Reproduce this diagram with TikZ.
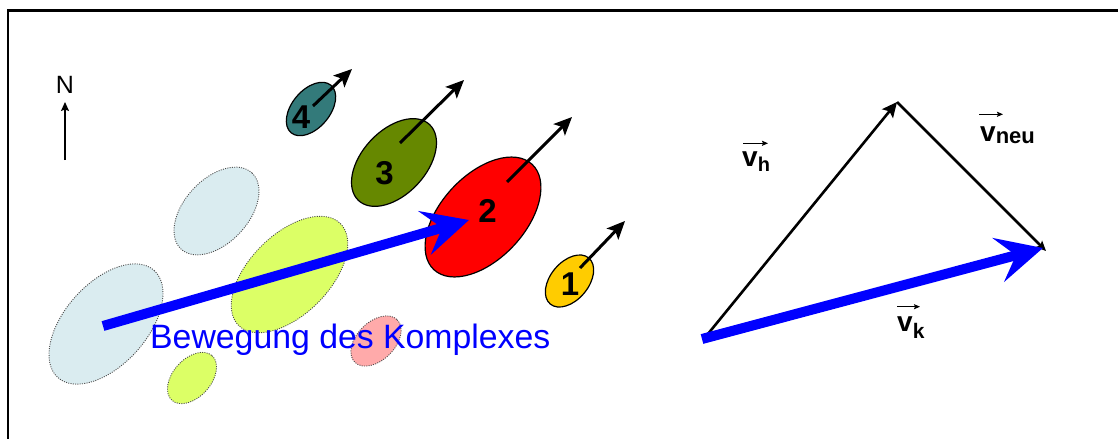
\documentclass[tikz,border=0pt]{standalone}
\usepackage{fontspec}
\setmainfont{Liberation Sans}
\usetikzlibrary{arrows.meta,calc}
\definecolor{lblue}{RGB}{218,236,240}
\definecolor{ygreen}{RGB}{220,255,102}
\definecolor{lpink}{RGB}{255,170,170}
\definecolor{teal4}{RGB}{51,122,122}
\definecolor{olive3}{RGB}{102,136,0}
\definecolor{gold1}{RGB}{255,204,0}
\begin{document}
\begin{tikzpicture}[x=1pt,y=-1pt,
  dotell/.style={fill=#1, draw=black!70, line width=0.9pt, dash pattern=on 1pt off 1.3pt},
  solell/.style={fill=#1, draw=black, line width=1.2pt},
  num/.style={font=\bfseries\fontsize{33}{33}\selectfont, inner sep=0pt, anchor=base},
  movearr/.style={line width=3pt, -{Stealth[length=18pt,width=16pt,inset=4pt]}},
  bluearr/.style={draw=blue, line width=10pt, -{Stealth[length=46pt,width=45pt,inset=18pt]}},
  vecarr/.style={line width=2.6pt},
  vlabel/.style={inner sep=0pt, anchor=base west, font=\bfseries\fontsize{28}{28}\selectfont},
  ovarr/.style={line width=1pt, -{Stealth[length=6pt,width=5pt,inset=1pt]}}
]
\useasboundingbox (0,0) rectangle (1118,439);
\draw[line width=2.2pt] (1118,10.5) -- (8,10.5) -- (8,439);

% north arrow
\node[font=\fontsize{25}{25}\selectfont, anchor=base, inner sep=0pt] (N) at (65,93) {N};
\coordinate (nS) at (65,160);
\coordinate (nT) at (65,102);
\draw[line width=1.3pt, -{Stealth[length=9pt,width=8pt,inset=1.5pt]}] (nS) -- (nT);

% old cells (dotted)
\path[dotell=lblue, shift={(106,324)}, rotate=48] (0,0) ellipse [x radius=72, y radius=41];
\path[dotell=lblue, shift={(216.5,211)}, rotate=47] (0,0) ellipse [x radius=52, y radius=32];
\path[dotell=ygreen, shift={(289.5,274.5)}, rotate=45] (0,0) ellipse [x radius=72, y radius=40];
\path[dotell=ygreen, shift={(192,378)}, rotate=48] (0,0) ellipse [x radius=30, y radius=19];
\path[dotell=lpink, shift={(376,341)}, rotate=45] (0,0) ellipse [x radius=30, y radius=19];

% current cells
\path[solell=teal4, shift={(311,109)}, rotate=50] (0,0) ellipse [x radius=31, y radius=19];
\path[solell=olive3, shift={(394,162.5)}, rotate=47] (0,0) ellipse [x radius=52, y radius=32];
\path[solell=red, shift={(483,217)}, rotate=47] (0,0) ellipse [x radius=72, y radius=42];
\path[solell=gold1, shift={(569.5,281)}, rotate=50] (0,0) ellipse [x radius=30, y radius=19];

\node[num] (n4) at (301,128) {4};
\node[num] (n3) at (384.5,184.5) {3};
\node[num] (n2) at (487.5,222) {2};
\node[num] (n1) at (570,295) {1};

% movement arrows of cells
\coordinate (m4s) at (313,106); \coordinate (m4t) at (352,69);
\coordinate (m3s) at (400,143); \coordinate (m3t) at (464,80);
\coordinate (m2s) at (507,182); \coordinate (m2t) at (572,117);
\coordinate (m1s) at (580,268); \coordinate (m1t) at (625,221);
\draw[movearr] (m4s) -- (m4t);
\draw[movearr] (m3s) -- (m3t);
\draw[movearr] (m2s) -- (m2t);
\draw[movearr] (m1s) -- (m1t);

% complex movement
\coordinate (bs) at (103,326);
\coordinate (bt) at (469,220);
\draw[bluearr] (bs) -- (bt);
\node[anchor=base west, text=blue, font=\fontsize{33.8}{33.8}\selectfont, inner sep=0pt] (bew) at (150,348) {Bewegung des Komplexes};

% vector triangle
\coordinate (A) at (703,340);
\coordinate (B) at (897,102);
\coordinate (C) at (1046,251);
\coordinate (Ab) at (702,339);
\coordinate (Cb) at (1043,248);
\draw[vecarr, -{Stealth[length=15pt,width=14pt,inset=3pt]}] (A) -- (B);
\draw[vecarr, -{Stealth[length=10pt,width=9pt,inset=2pt]}] (B) -- (C);
\draw[bluearr] (Ab) -- (Cb);

\node[vlabel] (vh) at (742,166.7) {v\raisebox{-5pt}{\fontsize{20}{20}\selectfont h}};
\node[vlabel] (vneu) at (980,141.7) {v\raisebox{-2pt}{\fontsize{22}{22}\selectfont neu}};
\node[vlabel] (vk) at (897,331) {v\raisebox{-7pt}{\fontsize{21}{21}\selectfont k}};
\draw[ovarr] ([shift={(1,-23.4)}]vh.base west) -- ++(25,0);
\draw[ovarr] ([shift={(-1,-27.4)}]vneu.base west) -- ++(24,0);
\draw[ovarr] ([shift={(0,-24.3)}]vk.base west) -- ++(23,0);
\end{tikzpicture}
\end{document}
